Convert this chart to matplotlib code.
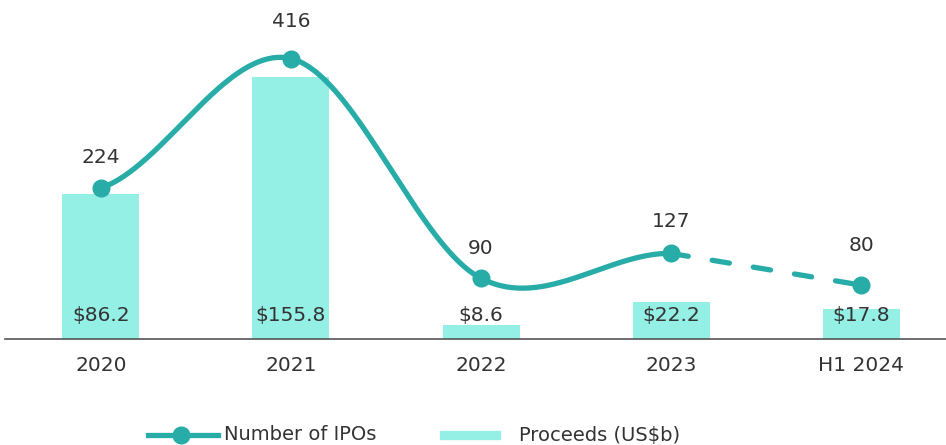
import numpy as np
import matplotlib
matplotlib.use("Agg")
import matplotlib.pyplot as plt
from matplotlib.lines import Line2D
from matplotlib.patches import Rectangle

categories = ["2020", "2021", "2022", "2023", "H1 2024"]
ipo_counts = [224, 416, 90, 127, 80]
proceeds = [86.2, 155.8, 8.6, 22.2, 17.8]
proceeds_labels = ["$86.2", "$155.8", "$8.6", "$22.2", "$17.8"]
series_names = ["Number of IPOs", "Proceeds (US$b)"]

LINE_C = "#27ACA7"
BAR_C = "#94EFE5"
TXT_C = "#333333"

W, H = 946, 445
fig = plt.figure(figsize=(W / 100, H / 100), dpi=100)
base_px = 339
ax = fig.add_axes([5 / W, (H - base_px) / H, 941 / W, base_px / H])
ax2 = ax.twinx()

x = np.arange(len(categories))
ax.set_xlim(-0.505, 4.447)
ax.set_ylim(0, base_px / 1.6816)
ax2.set_ylim(0, base_px / 0.674)

ax.bar(x, proceeds, width=77 / 190, color=BAR_C, zorder=1)
for xi, lab in zip(x, proceeds_labels):
    ax.annotate(lab, (xi, 0), xytext=(0, 23 * 0.72), textcoords="offset points",
                ha="center", va="center", fontsize=14.5, color=TXT_C)

# Smoothed line (Catmull-Rom / Excel-like) for solid part
y = np.array(ipo_counts, dtype=float)
n = len(y)
m = np.zeros(n)
m[0] = (y[1] - y[0]) / 2
m[-1] = (y[-1] - y[-2]) / 2
for i in range(1, n - 1):
    m[i] = (y[i + 1] - y[i - 1]) / 2
xs, ys = [], []
t = np.linspace(0, 1, 80)
h00 = 2 * t**3 - 3 * t**2 + 1
h10 = t**3 - 2 * t**2 + t
h01 = -2 * t**3 + 3 * t**2
h11 = t**3 - t**2
for i in range(3):
    xs.append(i + t)
    ys.append(h00 * y[i] + h10 * m[i] + h01 * y[i + 1] + h11 * m[i + 1])
xs = np.concatenate(xs)
ys = np.concatenate(ys)
ax2.plot(xs, ys, color=LINE_C, lw=3.8, solid_capstyle="round", zorder=3)
ax2.plot(x[3:], y[3:], color=LINE_C, lw=3.8, dashes=(3.3, 4.6),
         dash_capstyle="round", zorder=3)
ax2.plot(x, y, "o", color=LINE_C, ms=12, zorder=4)

offsets = [31, 37, 30, 32, 40]
for xi, yi, off in zip(x, ipo_counts, offsets):
    ax2.annotate(str(yi), (xi, yi), xytext=(0, off * 0.72), textcoords="offset points",
                 ha="center", va="center", fontsize=14.5, color=TXT_C)

for a in (ax, ax2):
    for s in ["top", "right", "left"]:
        a.spines[s].set_visible(False)
    a.set_yticks([])
ax2.spines["bottom"].set_visible(False)
ax.spines["bottom"].set_color("#555555")
ax.spines["bottom"].set_linewidth(1.2)
ax.set_xticks(x)
ax.set_xticklabels(categories, fontsize=14.5, color=TXT_C)
ax.tick_params(axis="x", length=0, pad=12)

# Legend (manual)
ly = (H - 435) / H
fig.add_artist(Line2D([148 / W, 218 / W], [ly, ly], color=LINE_C, lw=3.8))
fig.add_artist(Line2D([181 / W], [ly], marker="o", color=LINE_C, ms=12))
fig.text(224 / W, ly, series_names[0], fontsize=14, color=TXT_C, va="center", ha="left")
fig.add_artist(Rectangle((440 / W, (H - 439) / H), 60 / W, 8 / H, color=BAR_C,
                         transform=fig.transFigure))
fig.text(519 / W, ly, series_names[1], fontsize=14, color=TXT_C, va="center", ha="left")

fig.savefig("out.png", dpi=100)
